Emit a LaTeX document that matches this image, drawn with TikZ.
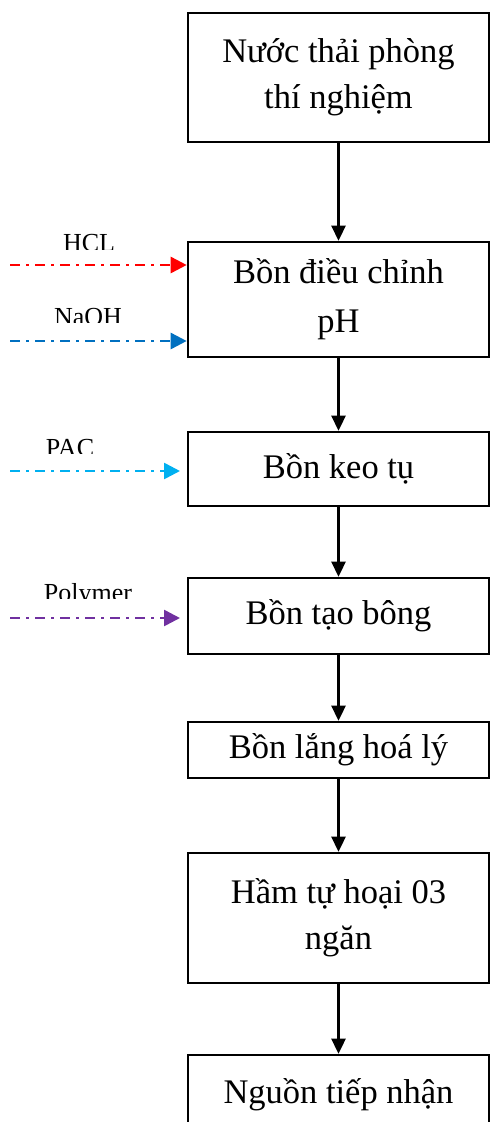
\documentclass[tikz,border=0pt]{standalone}
\usepackage{fontspec}
\setmainfont{Liberation Serif}
\usetikzlibrary{arrows.meta}
\definecolor{acidred}{RGB}{255,0,0}
\definecolor{basblue}{RGB}{0,112,192}
\definecolor{pacblue}{RGB}{0,176,240}
\definecolor{polypurple}{RGB}{112,48,160}
\tikzset{
  x=1pt, y=-1pt,
  stage/.style={draw=black, line width=2.6pt, minimum width=301pt, inner sep=0pt,
    align=center, font=\fontsize{34.5}{47}\selectfont},
  flow/.style={line width=2.6pt, -{Triangle[length=15pt,width=14pt]}},
  dose/.style={line width=2.6pt, dash pattern=on 10pt off 6pt on 3pt off 6pt,
    -{Triangle[length=16pt,width=16pt]}},
  chem/.style={inner sep=0pt, font=\fontsize{26}{26}\selectfont, anchor=base}
}
\begin{document}
\begin{tikzpicture}
\useasboundingbox (0,0) rectangle (490,1122);
\clip (0,0) rectangle (490,1122);

% process stages
\node[stage, minimum height=129pt] (b1) at (338.5,77.5) {Nước thải phòng\\[-1pt]thí nghiệm};
\node[stage, minimum height=115pt] (b2) at (338.5,299.5) {Bồn điều chỉnh\\[2pt]pH};
\node[stage, minimum height=74pt]  (b3) at (338.5,469) {Bồn keo tụ};
\node[stage, minimum height=76pt]  (b4) at (338.5,616) {Bồn tạo bông};
\node[stage, minimum height=56pt]  (b5) at (338.5,750) {Bồn lắng hoá lý};
\node[stage, minimum height=130pt] (b6) at (338.5,918) {Hầm tự hoại 03\\[-1pt]ngăn};
\node[stage, minimum height=80pt]  (b7) at (338.5,1095) {Nguồn tiếp nhận};

% main flow
\draw[flow] (b1.south) -- (b2.north);
\draw[flow] (b2.south) -- (b3.north);
\draw[flow] (b3.south) -- (b4.north);
\draw[flow] (b4.south) -- (b5.north);
\draw[flow] (b5.south) -- (b6.north);
\draw[flow] (b6.south) -- (b7.north);

% chemical dosing lines
\coordinate (hclS) at (10,265);
\coordinate (naohS) at (10,341);
\coordinate (pacS) at (10,471);
\coordinate (polyS) at (10,618);
\coordinate (pacE) at (180,471);
\coordinate (polyE) at (180,618);
\draw[dose, acidred]    (hclS)  -- (hclS -| b2.west);
\draw[dose, basblue]    (naohS) -- (naohS -| b2.west);
\draw[dose, pacblue]    (pacS)  -- (pacE);
\draw[dose, polypurple] (polyS) -- (polyE);

% chemical names (bottoms trimmed by the text frames)
\begin{scope}
  \clip (0,225) rectangle (180,249);
  \node[chem] (hcl) at (89,251) {HCL};
\end{scope}
\begin{scope}
  \clip (0,300) rectangle (180,322);
  \node[chem] (naoh) at (88,325) {NaOH};
\end{scope}
\begin{scope}
  \clip (0,430) rectangle (180,453);
  \node[chem] (pac) at (70,456) {PAC};
\end{scope}
\begin{scope}
  \clip (0,575) rectangle (180,598);
  \node[chem] (poly) at (88,601) {Polymer};
\end{scope}
\end{tikzpicture}
\end{document}
